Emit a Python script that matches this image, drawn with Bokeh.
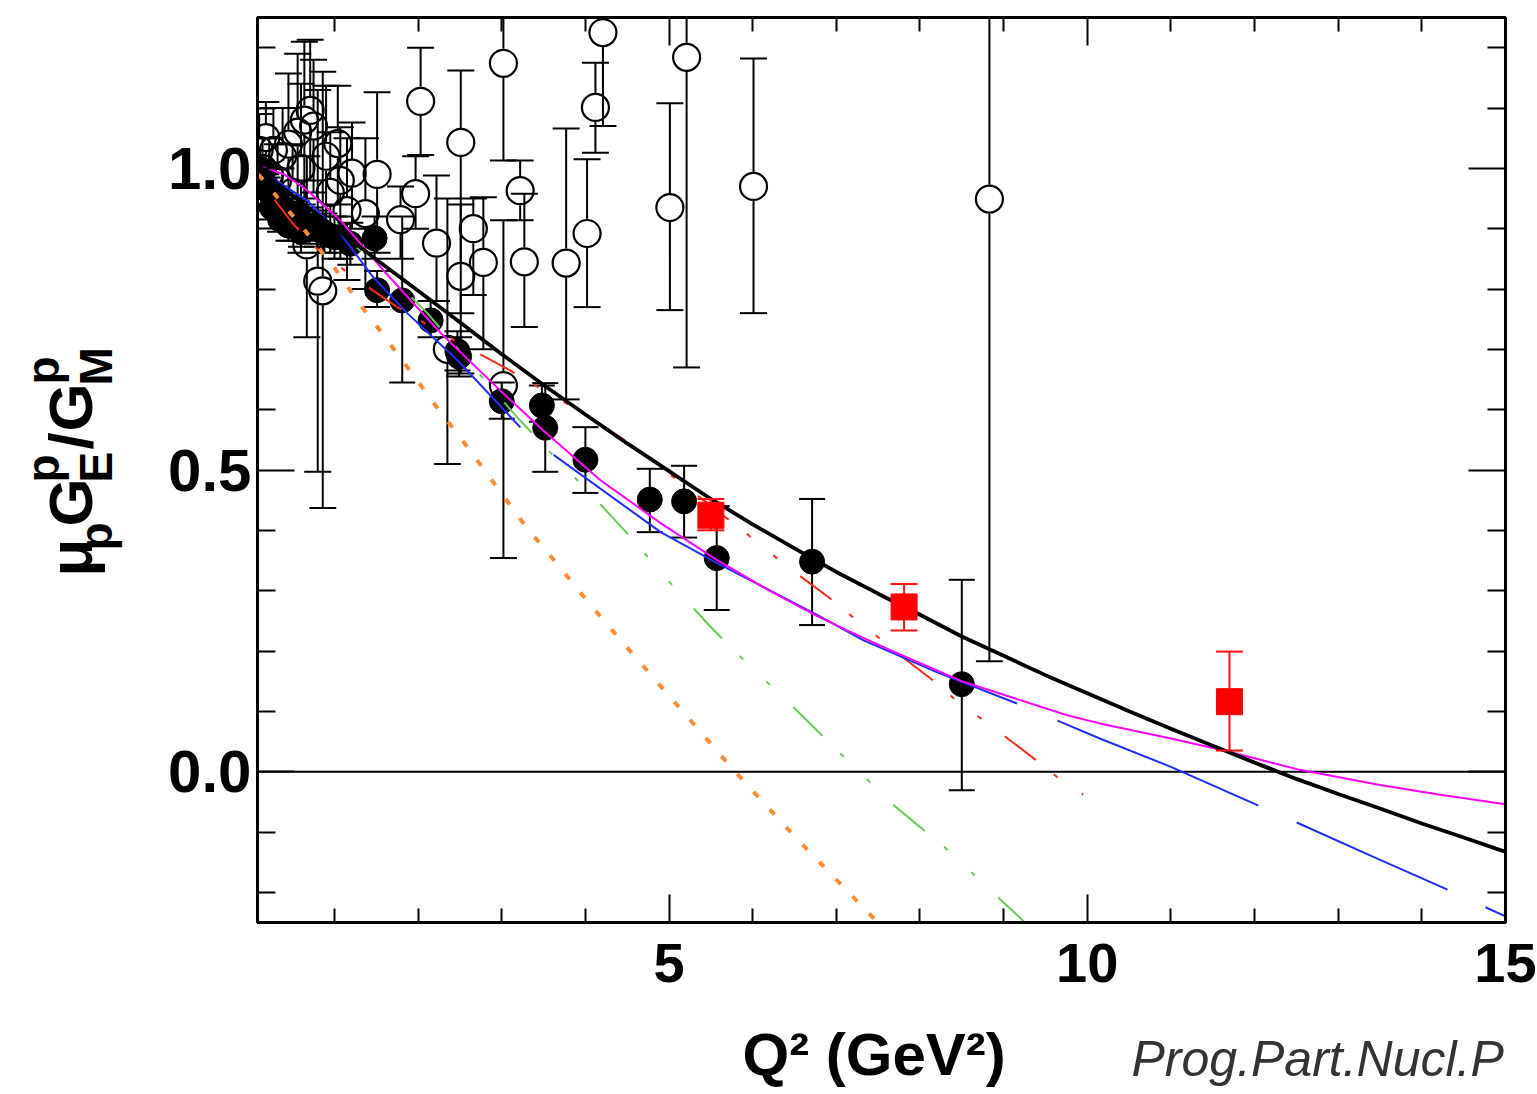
import numpy as np
from bokeh.plotting import figure
from bokeh.layouts import row, column
from bokeh.models import (FixedTicker, LinearAxis, NumeralTickFormatter,
                          CustomJSTickFormatter, Span)
from bokeh.core.properties import value
from bokeh.embed import file_html
from bokeh.resources import INLINE

# ---------------- data ----------------
# open circles (Rosenbluth-type data): x, y, lower, upper
open_x = [0.10, 0.14, 0.18, 0.22, 0.27, 0.32, 0.38, 0.45, 0.50, 0.56, 0.60, 0.64, 0.67, 0.71, 0.75,
          0.80, 0.86, 0.90, 0.95, 1.04, 1.07, 1.15, 1.21, 1.37, 1.51, 1.79, 1.97, 2.03, 2.22, 2.35,
          2.51, 2.51, 2.66, 2.78, 3.02, 3.02, 3.22, 3.27, 3.77, 4.02, 4.12, 4.21, 5.01, 5.21, 6.01, 8.83]
open_y = [1.03, 1.00, 1.051, 0.99, 1.03, 0.98, 1.02, 1.04, 0.96, 1.06, 1.00, 1.08, 0.873, 1.096, 1.07,
          0.813, 0.797, 1.02, 0.96, 1.041, 0.98, 0.93, 0.992, 0.925, 0.99, 0.915, 0.958, 1.111, 0.876, 0.70,
          1.043, 0.821, 0.90, 0.844, 1.174, 0.64, 0.963, 0.845, 0.843, 0.892, 1.101, 1.225, 0.935, 1.184, 0.970, 0.949]
open_lo = [0.97, 0.95, 0.99, 0.93, 0.96, 0.92, 0.94, 0.95, 0.88, 0.93, 0.86, 0.95, 0.72, 0.98, 0.96,
           0.497, 0.437, 0.90, 0.86, 0.94, 0.88, 0.815, 0.90, 0.80, 0.86, 0.85, 0.90, 1.022, 0.78, 0.51,
           0.76, 0.66, 0.79, 0.70, 1.013, 0.354, 0.914, 0.737, 0.617, 0.77, 1.026, 1.07, 0.765, 0.67, 0.76, 0.183]
open_hi = [1.09, 1.05, 1.11, 1.05, 1.10, 1.04, 1.10, 1.157, 1.04, 1.19, 1.14, 1.21, 1.02, 1.213, 1.18,
           1.13, 1.16, 1.137, 1.06, 1.137, 1.068, 1.05, 1.076, 1.05, 1.126, 0.97, 1.02, 1.20, 0.988, 0.95,
           1.162, 0.94, 0.95, 0.952, 1.35, 0.914, 1.013, 0.958, 1.066, 1.015, 1.175, 1.40, 1.108, 1.35, 1.182, 1.75]

# filled circles (polarization transfer data)
fill_x = [0.10, 0.13, 0.16, 0.20, 0.24, 0.25, 0.28, 0.32, 0.35, 0.37, 0.42, 0.45, 0.48, 0.55, 0.60, 0.62,
          0.70, 0.79, 0.88, 1.00, 1.07, 1.19, 1.48, 1.51, 1.81, 2.15, 2.47, 2.49, 3.00, 3.48, 3.52,
          4.00, 4.77, 5.18, 5.57, 6.71, 8.50]
fill_y = [1.000, 0.985, 0.975, 0.968, 0.958, 0.935, 0.950, 0.943, 0.915, 0.935, 0.930, 0.905, 0.925, 0.918, 0.895, 0.910,
          0.905, 0.900, 0.893, 0.886, 0.886, 0.875, 0.884, 0.798, 0.781, 0.748, 0.697, 0.688, 0.614, 0.607, 0.570,
          0.517, 0.451, 0.448, 0.354, 0.348, 0.145]
fill_lo = [0.985, 0.97, 0.96, 0.95, 0.94, 0.915, 0.93, 0.92, 0.895, 0.91, 0.905, 0.88, 0.90, 0.89, 0.87, 0.88,
           0.875, 0.87, 0.86, 0.85, 0.85, 0.84, 0.85, 0.77, 0.645, 0.72, 0.665, 0.655, 0.585, 0.58, 0.497,
           0.462, 0.397, 0.388, 0.268, 0.243, -0.031]
fill_hi = [1.015, 1.0, 0.99, 0.985, 0.975, 0.955, 0.97, 0.965, 0.935, 0.96, 0.955, 0.93, 0.95, 0.945, 0.92, 0.94,
           0.935, 0.93, 0.925, 0.92, 0.92, 0.91, 0.92, 0.83, 0.92, 0.78, 0.73, 0.72, 0.645, 0.64, 0.644,
           0.571, 0.502, 0.507, 0.44, 0.452, 0.318]

# red squares
sq_x = [5.50, 7.81, 11.70]
sq_y = [0.425, 0.273, 0.116]
sq_lo = [0.400, 0.234, 0.035]
sq_hi = [0.452, 0.311, 0.199]

# model curves
black_x = [0.08, 0.5, 1.0, 1.5, 2.0, 2.5, 3.0, 3.5, 4.0, 4.5, 5.0, 5.5, 6.0, 6.5, 7.0, 7.5, 8.0, 8.5,
           9.0, 9.5, 10.0, 10.5, 11.0, 11.5, 12.0, 12.5, 13.0, 13.5, 14.0, 14.5, 15.0]
black_y = [1.000, 0.955, 0.902, 0.849, 0.797, 0.745, 0.692, 0.641, 0.592, 0.544, 0.498, 0.452, 0.410, 0.370,
           0.331, 0.295, 0.260, 0.224, 0.192, 0.160, 0.130, 0.100, 0.071, 0.043, 0.015, -0.012, -0.037,
           -0.061, -0.086, -0.109, -0.133]

magenta_x = [0.15, 0.4, 0.67, 1.07, 1.63, 2.27, 2.98, 3.5, 4.18, 4.9, 5.57, 6.2, 6.77, 7.16, 7.64, 8.5,
             9.75, 10.15, 11.0, 11.7, 12.54, 13.5, 14.2, 15.0]
magenta_y = [1.002, 0.99, 0.964, 0.914, 0.824, 0.727, 0.632, 0.565, 0.483, 0.412, 0.351, 0.300, 0.258, 0.232,
             0.202, 0.150, 0.094, 0.080, 0.055, 0.033, 0.003, -0.022, -0.038, -0.054]

blue_x = [0.11, 0.67, 1.07, 1.46, 1.87, 2.47, 3.22, 3.62, 4.9, 5.57, 6.77, 7.32, 8.2, 9.16, 9.64, 10.15,
          11.0, 12.04, 12.5, 13.4, 14.3, 15.0]
blue_y = [0.997, 0.947, 0.892, 0.82, 0.76, 0.682, 0.571, 0.525, 0.397, 0.346, 0.26, 0.218, 0.165, 0.113,
          0.085, 0.055, 0.008, -0.056, -0.084, -0.140, -0.195, -0.24]

green_x = [0.1, 0.48, 1.05, 1.39, 1.75, 2.11, 2.66, 3.18, 3.7, 4.02, 4.5, 5.0, 5.49, 5.73, 6.5, 7.16,
           7.68, 8.3, 9.24]
green_y = [1.0, 0.959, 0.897, 0.853, 0.81, 0.76, 0.671, 0.588, 0.512, 0.467, 0.395, 0.315, 0.241, 0.207,
           0.105, 0.015, -0.055, -0.126, -0.248]

orange_x = [0.09, 0.3, 0.6, 1.01, 1.34, 1.55, 1.9, 2.23, 2.59, 2.94, 3.3, 3.67, 4.04, 4.44, 5.0, 5.79,
            6.5, 7.46]
orange_y = [0.99, 0.955, 0.905, 0.833, 0.768, 0.730, 0.665, 0.603, 0.538, 0.472, 0.404, 0.343, 0.28, 0.215,
            0.126, 0.0, -0.107, -0.245]

red_x = [0.08, 0.3, 0.5, 0.71, 1.0, 1.33, 1.75, 2.34, 2.71, 3.1, 3.38, 4.05, 4.41, 4.69, 5.3, 5.95, 6.27,
         6.54, 6.9, 7.19, 7.49, 7.79, 8.15, 8.4, 8.72, 9.02, 9.38, 9.65, 9.95]
red_y = [0.985, 0.945, 0.909, 0.876, 0.843, 0.81, 0.77, 0.722, 0.694, 0.665, 0.642, 0.588, 0.555, 0.527,
         0.462, 0.392, 0.356, 0.327, 0.29, 0.257, 0.224, 0.19, 0.152, 0.122, 0.089, 0.058, 0.02, -0.01, -0.038]

x_major = [5, 10, 15]
x_minor = [1, 2, 3, 4, 6, 7, 8, 9, 11, 12, 13, 14]
y_major = [0.0, 0.5, 1.0]
y_minor = [-0.2, -0.1, 0.1, 0.2, 0.3, 0.4, 0.6, 0.7, 0.8, 0.9, 1.1, 1.2]

# pieces of the rotated y title: text, baseline x (page px), start y (page px), level
ytitle_text = ["μ", "p", "G", "p", "E", "/", "G", "p", "M"]
ytitle_base = [92, 111, 92, 58, 111, 92, 92, 58, 111]
ytitle_start = [576, 550, 526, 482, 482, 449, 431, 384, 385]
ytitle_big = [True, False, True, False, False, True, True, False, False]

xtitle = "Q² (GeV²)"
note = "Prog.Part.Nucl.P"

# ---------------- layout sizes ----------------
W, H = 1537, 1094
LW = 150                 # width of the y-title strip
HM = 1020                # height of the main row
HB = H - HM              # height of the bottom strip
FRAME_L, FRAME_R, FRAME_T, FRAME_B = 257, 1505, 17, 922
XR = (0.08, 15.0)
YR = (-0.25, 1.25)
FONT = "Liberation Sans"
ASCENT = 0.905           # font ascent (em) used to place top-anchored rotated text

# ---------------- main figure ----------------
p = figure(width=W - LW, height=HM, x_range=XR, y_range=YR, output_backend="svg",
           toolbar_location=None, x_axis_location=None, y_axis_location=None,
           min_border_left=FRAME_L - LW, min_border_right=W - FRAME_R,
           min_border_top=FRAME_T, min_border_bottom=HM - FRAME_B,
           background_fill_color="white", border_fill_color="white")
p.grid.visible = False
p.outline_line_color = "black"
p.outline_line_width = 3


def style(ax, major_in, minor_in):
    ax.axis_line_width = 3
    ax.axis_line_color = "black"
    ax.major_tick_in = major_in
    ax.major_tick_out = 0
    ax.minor_tick_in = minor_in
    ax.minor_tick_out = 0
    ax.major_tick_line_width = 2
    ax.minor_tick_line_width = 2
    ax.major_tick_line_color = "black"
    ax.minor_tick_line_color = "black"


xt = FixedTicker(ticks=x_major, minor_ticks=x_minor)
yt = FixedTicker(ticks=y_major, minor_ticks=y_minor)
blank = CustomJSTickFormatter(code="return ''")

xb = LinearAxis(ticker=xt)
style(xb, 28, 14)
xb.major_label_text_font = FONT
xb.major_label_text_font_style = "bold"
xb.major_label_text_font_size = "56px"
xb.major_label_text_color = "black"
xb.major_label_standoff = 21
p.add_layout(xb, "below")

xa = LinearAxis(ticker=xt, formatter=blank)
style(xa, 28, 14)
xa.major_label_standoff = 0
p.add_layout(xa, "above")

yl = LinearAxis(ticker=yt, formatter=NumeralTickFormatter(format="0.0"))
style(yl, 37, 18)
yl.major_label_text_font = FONT
yl.major_label_text_font_style = "bold"
yl.major_label_text_font_size = "60px"
yl.major_label_text_color = "black"
yl.major_label_standoff = 6
p.add_layout(yl, "left")

yr = LinearAxis(ticker=yt, formatter=blank)
style(yr, 37, 18)
yr.major_label_standoff = 0
p.add_layout(yr, "right")

p.add_layout(Span(location=0.0, dimension="width", line_color="black", line_width=2, level="underlay"))

# pixel scales (used for marker rims and dash phases)
SX = (FRAME_R - FRAME_L) / (XR[1] - XR[0])
SY = (FRAME_B - FRAME_T) / (YR[1] - YR[0])
R_OPEN = 14.5 / SY


def path_len_to(xs, ys, xt_):
    tot = 0.0
    for i in range(len(xs) - 1):
        x0, x1 = xs[i], xs[i + 1]
        dx = (x1 - x0) * SX
        dy = (ys[i + 1] - ys[i]) * SY
        seg = (dx * dx + dy * dy) ** 0.5
        if xt_ <= x1:
            return tot + seg * (xt_ - x0) / (x1 - x0)
        tot += seg
    return tot


def phase(xs, ys, xt_, period):
    return (period - path_len_to(xs, ys, xt_) % period) % period


# ---- open circles with error bars ----
ux0, uy0, uy1 = [], [], []
for x, y, lo, hi in zip(open_x, open_y, open_lo, open_hi):
    if hi > y + R_OPEN:
        ux0.append(x); uy0.append(y + R_OPEN); uy1.append(hi)
    if lo < y - R_OPEN:
        ux0.append(x); uy0.append(lo); uy1.append(y - R_OPEN)
p.segment(x0=ux0, y0=uy0, x1=ux0, y1=uy1, line_color="black", line_width=2)
p.scatter(x=open_x + open_x, y=open_lo + open_hi, marker="dash", size=27, line_color="black", line_width=2)
p.scatter(x=open_x, y=open_y, marker="circle", size=27, fill_color=None, line_color="black", line_width=2.2)

# ---- filled circles ----
p.segment(x0=fill_x, y0=fill_lo, x1=fill_x, y1=fill_hi, line_color="black", line_width=2)
p.scatter(x=fill_x + fill_x, y=fill_lo + fill_hi, marker="dash", size=26, line_color="black", line_width=2)
p.scatter(x=fill_x, y=fill_y, marker="circle", size=25, fill_color="black", line_color="black")

# ---- curves ----
RED_DASH, RED_P = "39 23 5 29 5 29", 130
GRN_DASH, GRN_P = "41 25 5 32 5 32", 140
p.line(orange_x, orange_y, line_color="#ff8c33", line_width=4, line_dash="7 17")
p.line(green_x, green_y, line_color="#66cc55", line_width=2, line_dash=GRN_DASH,
       line_dash_offset=int(round(phase(green_x, green_y, 7.68, GRN_P))))
p.line(red_x, red_y, line_color="#ff2a1a", line_width=2, line_dash=RED_DASH,
       line_dash_offset=int(round(phase(red_x, red_y, 7.79, RED_P))))
p.line(blue_x, blue_y, line_color="#1f2dff", line_width=2,
       line_dash="368 43 528 44 218 42 165 42 400")
p.line(magenta_x, magenta_y, line_color="#ff00ff", line_width=2)
p.line(black_x, black_y, line_color="black", line_width=3.8)

# ---- red squares ----
p.segment(x0=sq_x, y0=sq_lo, x1=sq_x, y1=sq_hi, line_color="#ff1010", line_width=2)
p.scatter(x=sq_x + sq_x, y=sq_lo + sq_hi, marker="dash", size=27, line_color="#ff1010", line_width=2)
p.scatter(x=sq_x, y=sq_y, marker="square", size=26, fill_color="#ff0000", line_color="#ff0000")


# ---------------- text strips ----------------
def strip(w, h, y_range, **borders):
    f = figure(width=w, height=h, x_range=(0, w), y_range=y_range, output_backend="svg",
               toolbar_location=None, x_axis_location=None, y_axis_location=None,
               min_border=0, outline_line_color=None,
               background_fill_color="white", border_fill_color="white", **borders)
    f.grid.visible = False
    return f


# the y-title strip shares the main frame's vertical extent; y value = -(page y)
ylab = strip(LW, HM, (-FRAME_B, -FRAME_T), min_border_top=FRAME_T, min_border_bottom=HM - FRAME_B)
for big in (True, False):
    size = 62 if big else 46
    xs = [bx - ASCENT * size for bx, b in zip(ytitle_base, ytitle_big) if b == big]
    ys = [-sy for sy, b in zip(ytitle_start, ytitle_big) if b == big]
    ts = [t for t, b in zip(ytitle_text, ytitle_big) if b == big]
    ylab.text(x=xs, y=ys, text=ts, angle=np.pi / 2, text_font=value(FONT),
              text_font_style="bold", text_font_size=f"{size}px",
              text_align="left", text_baseline="top", text_color="black")

bot = strip(W, HB, (0, HB))
bot.text(x=[742], y=[H - 1054], text=[xtitle], text_font=value(FONT), text_font_style="bold",
         text_font_size="60px", text_align="left", text_baseline="middle", text_color="black")
bot.text(x=[1131], y=[H - 1058], text=[note], text_font=value(FONT), text_font_style="italic",
         text_font_size="50px", text_align="left", text_baseline="middle", text_color="#333333")

layout = column(row(ylab, p, spacing=0), bot, spacing=0)

open("out.html", "w").write(file_html(layout, INLINE))
